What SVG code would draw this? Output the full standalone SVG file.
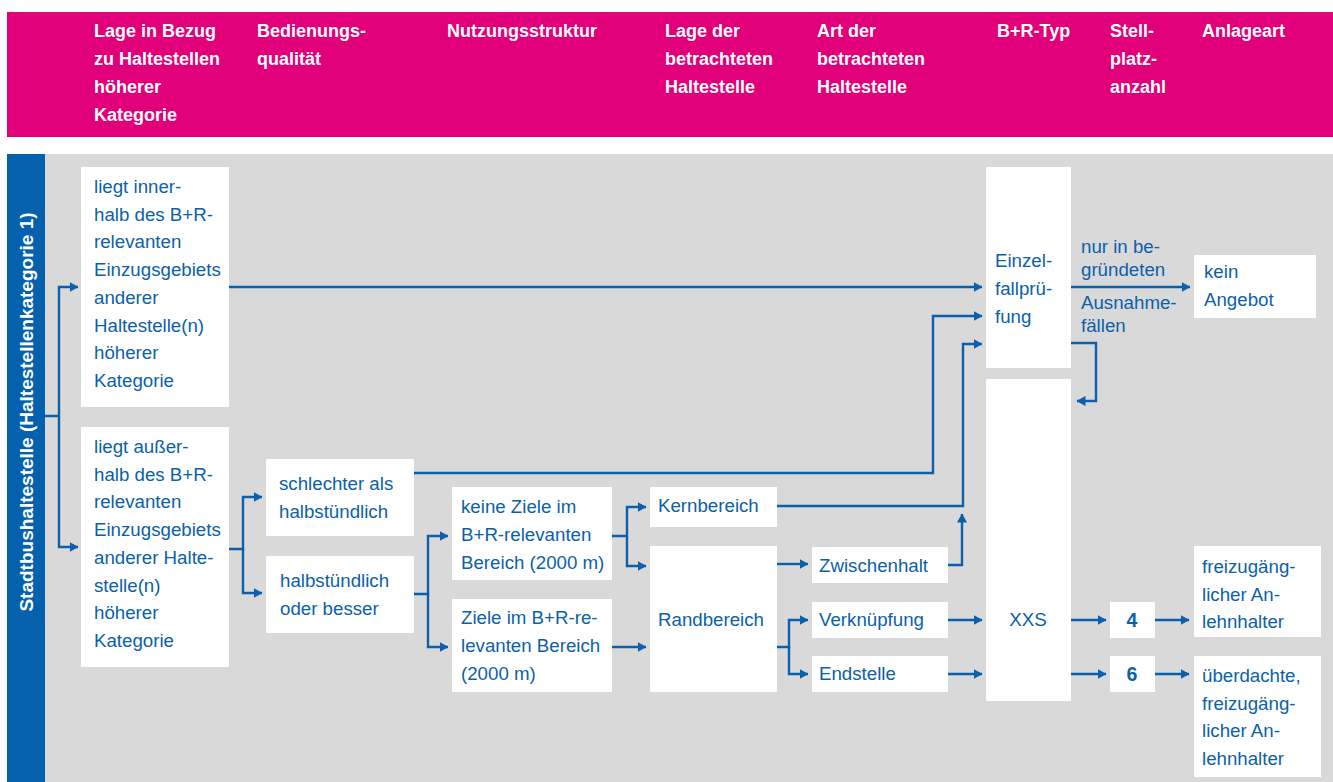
<svg xmlns="http://www.w3.org/2000/svg" width="1333" height="782" viewBox="0 0 1333 782">
<defs>
<style>
.hd{font-family:"Liberation Sans",Arial,sans-serif;font-weight:bold;font-size:18px;fill:#ffffff}
.sd{font-family:"Liberation Sans",Arial,sans-serif;font-weight:bold;font-size:19px;fill:#ffffff}
.t{font-family:"Liberation Sans",Arial,sans-serif;font-size:18.7px;fill:#0b5fab}
.tb{font-family:"Liberation Sans",Arial,sans-serif;font-size:19.5px;font-weight:bold;fill:#0b5fab}
.box{fill:#ffffff}
.c path{fill:none;stroke:#0b5fab;stroke-width:2.4;stroke-linejoin:miter}
.c path.a{marker-end:url(#ah)}
</style>
<marker id="ah" markerUnits="userSpaceOnUse" markerWidth="10" markerHeight="11" refX="8.5" refY="5.5" orient="auto" viewBox="0 0 10 11">
<path d="M0,0.5 L9,5.5 L0,10.5 z" fill="#0b5fab"/>
</marker>
</defs>
<rect x="0" y="0" width="1333" height="782" fill="#ffffff"/>
<g id="header">
<rect x="7" y="12" width="1326" height="125" fill="#e2007a"/>
<text class="hd" x="94" y="37"><tspan x="94">Lage in Bezug</tspan><tspan x="94" dy="28">zu Haltestellen</tspan><tspan x="94" dy="28">höherer</tspan><tspan x="94" dy="28">Kategorie</tspan></text>
<text class="hd" x="257" y="37"><tspan x="257">Bedienungs-</tspan><tspan x="257" dy="28">qualität</tspan></text>
<text class="hd" x="447" y="37">Nutzungsstruktur</text>
<text class="hd" x="665" y="37"><tspan x="665">Lage der</tspan><tspan x="665" dy="28">betrachteten</tspan><tspan x="665" dy="28">Haltestelle</tspan></text>
<text class="hd" x="817" y="37"><tspan x="817">Art der</tspan><tspan x="817" dy="28">betrachteten</tspan><tspan x="817" dy="28">Haltestelle</tspan></text>
<text class="hd" x="997" y="37">B+R-Typ</text>
<text class="hd" x="1110" y="37"><tspan x="1110">Stell-</tspan><tspan x="1110" dy="28">platz-</tspan><tspan x="1110" dy="28">anzahl</tspan></text>
<text class="hd" x="1202" y="37">Anlageart</text>
</g>
<rect x="45" y="154" width="1288" height="628" fill="#d9d9d9"/>
<g id="side">
<rect x="7" y="154" width="38" height="628" fill="#0561ad"/>
<text class="sd" transform="translate(33,412) rotate(-90)" text-anchor="middle">Stadtbushaltestelle (Haltestellenkategorie 1)</text>
</g>
<g class="c" id="connectors">
<path class="a" d="M45,416 H59 V287 H78"/>
<path class="a" d="M59,416 V547 H78"/>
<path class="a" d="M229,287 H982"/>
<path class="a" d="M229,549 H243 V497 H262"/>
<path class="a" d="M243,549 V593 H262"/>
<path class="a" d="M414,473 H933 V316 H982"/>
<path class="a" d="M414,594 H428 V536 H448"/>
<path class="a" d="M428,594 V647 H448"/>
<path class="a" d="M612,536 H627 V507 H646"/>
<path class="a" d="M627,536 V566 H646"/>
<path class="a" d="M612,647 H646"/>
<path class="a" d="M777,506 H963 V344 H982"/>
<path class="a" d="M777,564 H808"/>
<path class="a" d="M777,647 H789 V620 H808"/>
<path class="a" d="M789,647 V674 H808"/>
<path class="a" d="M948,565 H962 V514"/>
<path class="a" d="M948,620 H982"/>
<path class="a" d="M948,674 H982"/>
<path class="a" d="M1071,287 H1190"/>
<path class="a" d="M1071,343 H1096 V401 H1077"/>
<path class="a" d="M1071,620 H1106"/>
<path class="a" d="M1071,674 H1106"/>
<path class="a" d="M1155,620 H1189"/>
<path class="a" d="M1155,674 H1189"/>
</g>
<g id="n-innerhalb">
<rect class="box" x="81" y="167" width="148" height="240"/>
<text class="t" y="193"><tspan x="94">liegt inner-</tspan><tspan x="94" dy="27.7">halb des B+R-</tspan><tspan x="94" dy="27.7">relevanten</tspan><tspan x="94" dy="27.7">Einzugsgebiets</tspan><tspan x="94" dy="27.7">anderer</tspan><tspan x="94" dy="27.7">Haltestelle(n)</tspan><tspan x="94" dy="27.7">höherer</tspan><tspan x="94" dy="27.7">Kategorie</tspan></text>
</g>
<g id="n-ausserhalb">
<rect class="box" x="81" y="427" width="148" height="240"/>
<text class="t" y="453"><tspan x="94">liegt außer-</tspan><tspan x="94" dy="27.7">halb des B+R-</tspan><tspan x="94" dy="27.7">relevanten</tspan><tspan x="94" dy="27.7">Einzugsgebiets</tspan><tspan x="94" dy="27.7">anderer Halte-</tspan><tspan x="94" dy="27.7">stelle(n)</tspan><tspan x="94" dy="27.7">höherer</tspan><tspan x="94" dy="27.7">Kategorie</tspan></text>
</g>
<g id="n-schlechter">
<rect class="box" x="266" y="459" width="148" height="77"/>
<text class="t" y="490"><tspan x="279">schlechter als</tspan><tspan x="279" dy="28">halbstündlich</tspan></text>
</g>
<g id="n-halbstuendlich">
<rect class="box" x="266" y="556" width="148" height="77"/>
<text class="t" y="587"><tspan x="280">halbstündlich</tspan><tspan x="280" dy="28">oder besser</tspan></text>
</g>
<g id="n-keineziele">
<rect class="box" x="452" y="487" width="160" height="93"/>
<text class="t" y="513"><tspan x="461">keine Ziele im</tspan><tspan x="461" dy="28">B+R-relevanten</tspan><tspan x="461" dy="28">Bereich (2000 m)</tspan></text>
</g>
<g id="n-ziele">
<rect class="box" x="452" y="599" width="160" height="93"/>
<text class="t" y="624"><tspan x="461">Ziele im B+R-re-</tspan><tspan x="461" dy="28">levanten Bereich</tspan><tspan x="461" dy="28">(2000 m)</tspan></text>
</g>
<g id="n-kernbereich">
<rect class="box" x="650" y="487" width="127" height="40"/>
<text class="t" x="658" y="512">Kernbereich</text>
</g>
<g id="n-randbereich">
<rect class="box" x="650" y="546" width="127" height="146"/>
<text class="t" x="658" y="626">Randbereich</text>
</g>
<g id="n-zwischenhalt">
<rect class="box" x="812" y="547" width="136" height="36"/>
<text class="t" x="819" y="572">Zwischenhalt</text>
</g>
<g id="n-verknuepfung">
<rect class="box" x="812" y="602" width="136" height="36"/>
<text class="t" x="819" y="626">Verknüpfung</text>
</g>
<g id="n-endstelle">
<rect class="box" x="812" y="656" width="136" height="36"/>
<text class="t" x="819" y="680">Endstelle</text>
</g>
<g id="n-einzelfall">
<rect class="box" x="986" y="167" width="85" height="201"/>
<text class="t" y="267"><tspan x="995">Einzel-</tspan><tspan x="995" dy="28">fallprü-</tspan><tspan x="995" dy="28">fung</tspan></text>
</g>
<g id="n-xxs">
<rect class="box" x="986" y="379" width="85" height="322"/>
<text class="t" x="1028" y="626" text-anchor="middle">XXS</text>
</g>
<g id="lbl-ausnahme">
<text class="t" y="253"><tspan x="1081">nur in be-</tspan><tspan x="1081" dy="23">gründeten</tspan><tspan x="1081" dy="33">Ausnahme-</tspan><tspan x="1081" dy="23">fällen</tspan></text>
</g>
<g id="n-keinangebot">
<rect class="box" x="1194" y="255" width="122" height="63"/>
<text class="t" y="278"><tspan x="1204">kein</tspan><tspan x="1204" dy="28">Angebot</tspan></text>
</g>
<g id="n-4">
<rect class="box" x="1110" y="602" width="45" height="36"/>
<text class="tb" x="1132" y="627" text-anchor="middle">4</text>
</g>
<g id="n-6">
<rect class="box" x="1110" y="656" width="45" height="36"/>
<text class="tb" x="1132" y="681" text-anchor="middle">6</text>
</g>
<g id="n-freizugaenglich">
<rect class="box" x="1194" y="546" width="127" height="91"/>
<text class="t" y="573"><tspan x="1202">freizugäng-</tspan><tspan x="1202" dy="27.5">licher An-</tspan><tspan x="1202" dy="27.5">lehnhalter</tspan></text>
</g>
<g id="n-ueberdachte">
<rect class="box" x="1194" y="656" width="127" height="121"/>
<text class="t" y="682"><tspan x="1202">überdachte,</tspan><tspan x="1202" dy="27.7">freizugäng-</tspan><tspan x="1202" dy="27.7">licher An-</tspan><tspan x="1202" dy="27.7">lehnhalter</tspan></text>
</g>
</svg>
